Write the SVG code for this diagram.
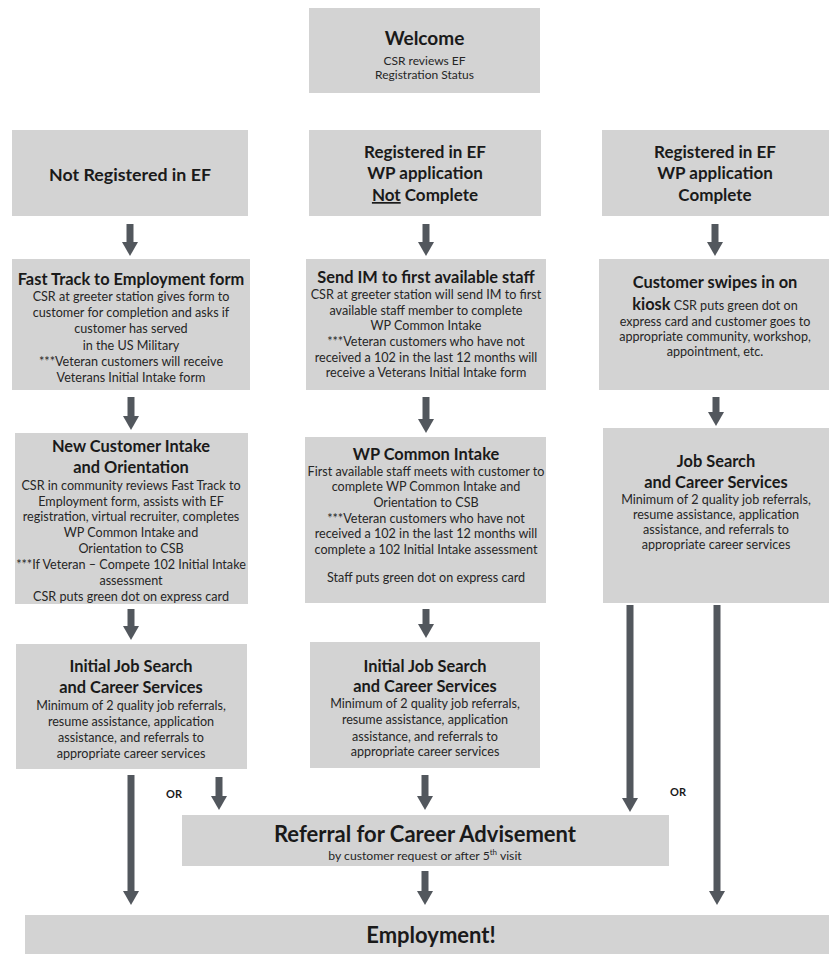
<svg xmlns="http://www.w3.org/2000/svg" width="829" height="954" viewBox="0 0 829 954">
<defs>
<style>
.box{fill:#d3d3d3}
text{font-family:Lato,"Liberation Sans",sans-serif;fill:#1a1a1a;text-anchor:middle}
.t{font-weight:bold;font-size:16.4px}
.h{font-weight:bold;font-size:17px}
.b{font-size:12.6px;fill:#262626}
.or{font-weight:bold;font-size:11px}
.ar{stroke:#52575d;stroke-width:7;fill:none;marker-end:url(#ah)}
</style>
<marker id="ah" markerUnits="userSpaceOnUse" markerWidth="14" markerHeight="16" refX="0" refY="8" orient="auto" viewBox="0 0 14 16">
<path d="M0,0 L14,8 L0,16 Z" fill="#52575d"/>
</marker>
</defs>
<rect width="829" height="954" fill="#fff"/>

<g id="welcome">
<rect class="box" x="309" y="8" width="231" height="85"/>
<text class="t" x="424.5" y="45" style="font-size:19px">Welcome</text>
<text class="b" x="424.5" y="65" style="font-size:12px">CSR reviews EF</text>
<text class="b" x="424.5" y="79" style="font-size:12px">Registration Status</text>
</g>

<g id="not-registered">
<rect class="box" x="12" y="130" width="236" height="86"/>
<text class="h" x="130" y="181" style="font-size:17.8px">Not Registered in EF</text>
</g>

<g id="registered-not-complete">
<rect class="box" x="309" y="130" width="232" height="86"/>
<text class="h" x="425" y="158">Registered in EF</text>
<text class="h" x="425" y="179">WP application</text>
<text class="h" x="425" y="201"><tspan text-decoration="underline">Not</tspan> Complete</text>
</g>

<g id="registered-complete">
<rect class="box" x="602" y="130" width="227" height="86"/>
<text class="h" x="715" y="158">Registered in EF</text>
<text class="h" x="715" y="179">WP application</text>
<text class="h" x="715" y="201">Complete</text>
</g>

<g id="fast-track">
<rect class="box" x="12" y="259" width="238" height="131"/>
<text class="t" x="131" y="285">Fast Track to Employment form</text>
<text class="b" x="131" y="301">CSR at greeter station gives form to</text>
<text class="b" x="131" y="317">customer for completion and asks if</text>
<text class="b" x="131" y="333">customer has served</text>
<text class="b" x="131" y="350">in the US Military</text>
<text class="b" x="131" y="366">***Veteran customers will receive</text>
<text class="b" x="131" y="382">Veterans Initial Intake form</text>
</g>

<g id="send-im">
<rect class="box" x="306" y="259" width="240" height="131"/>
<text class="t" x="426" y="283">Send IM to first available staff</text>
<text class="b" x="426" y="299">CSR at greeter station will send IM to first</text>
<text class="b" x="426" y="315">available staff member to complete</text>
<text class="b" x="426" y="330">WP Common Intake</text>
<text class="b" x="426" y="346">***Veteran customers who have not</text>
<text class="b" x="426" y="362">received a 102 in the last 12 months will</text>
<text class="b" x="426" y="377">receive a Veterans Initial Intake form</text>
</g>

<g id="kiosk">
<rect class="box" x="599" y="259" width="230" height="131"/>
<text class="t" x="715" y="288">Customer swipes in on</text>
<text x="715" y="310"><tspan class="t">kiosk</tspan><tspan class="b"> CSR puts green dot on</tspan></text>
<text class="b" x="715" y="326">express card and customer goes to</text>
<text class="b" x="715" y="341">appropriate community, workshop,</text>
<text class="b" x="715" y="356">appointment, etc.</text>
</g>

<g id="new-customer-intake">
<rect class="box" x="15" y="433" width="233" height="171"/>
<text class="t" x="131" y="452">New Customer Intake</text>
<text class="t" x="131" y="473">and Orientation</text>
<text class="b" x="131" y="490">CSR in community reviews Fast Track to</text>
<text class="b" x="131" y="506">Employment form, assists with EF</text>
<text class="b" x="131" y="521">registration, virtual recruiter, completes</text>
<text class="b" x="131" y="537">WP Common Intake  and</text>
<text class="b" x="131" y="553">Orientation to CSB</text>
<text class="b" x="131" y="569">***If Veteran – Compete 102 Initial Intake</text>
<text class="b" x="131" y="585">assessment</text>
<text class="b" x="131" y="601">CSR puts green dot on express card</text>
</g>

<g id="wp-common-intake">
<rect class="box" x="305" y="437" width="241" height="166"/>
<text class="t" x="426" y="460">WP Common Intake</text>
<text class="b" x="426" y="476">First available staff meets with customer to</text>
<text class="b" x="426" y="491">complete WP Common Intake and</text>
<text class="b" x="426" y="507">Orientation to CSB</text>
<text class="b" x="426" y="523">***Veteran customers who have not</text>
<text class="b" x="426" y="538">received a 102 in the last 12 months will</text>
<text class="b" x="426" y="554">complete a 102 Initial Intake assessment</text>
<text class="b" x="426" y="582">Staff puts green dot on express card</text>
</g>

<g id="job-search">
<rect class="box" x="603" y="428" width="226" height="175"/>
<text class="t" x="716" y="467">Job Search</text>
<text class="t" x="716" y="488">and Career Services</text>
<text class="b" x="716" y="504">Minimum of 2 quality job referrals,</text>
<text class="b" x="716" y="519">resume assistance, application</text>
<text class="b" x="716" y="534">assistance, and referrals to</text>
<text class="b" x="716" y="549">appropriate career services</text>
</g>

<g id="initial-job-search-1">
<rect class="box" x="16" y="644" width="231" height="125"/>
<text class="t" x="131" y="672">Initial Job Search</text>
<text class="t" x="131" y="693">and Career Services</text>
<text class="b" x="131" y="710">Minimum of 2 quality job referrals,</text>
<text class="b" x="131" y="726">resume assistance, application</text>
<text class="b" x="131" y="742">assistance, and referrals to</text>
<text class="b" x="131" y="758">appropriate career services</text>
</g>

<g id="initial-job-search-2">
<rect class="box" x="310" y="642" width="230" height="126"/>
<text class="t" x="425" y="672">Initial Job Search</text>
<text class="t" x="425" y="692">and Career Services</text>
<text class="b" x="425" y="708">Minimum of 2 quality job referrals,</text>
<text class="b" x="425" y="724">resume assistance, application</text>
<text class="b" x="425" y="741">assistance, and referrals to</text>
<text class="b" x="425" y="756">appropriate career services</text>
</g>

<g id="referral">
<rect class="box" x="182" y="815" width="487" height="51"/>
<text x="425" y="842" style="font-weight:bold;font-size:22px">Referral for Career Advisement</text>
<text class="b" x="425" y="860" style="font-size:12.2px">by customer request or after 5<tspan baseline-shift="super" style="font-size:8px">th</tspan> visit</text>
</g>

<g id="employment">
<rect class="box" x="25" y="915" width="804" height="39"/>
<text x="431" y="943" style="font-weight:bold;font-size:22px">Employment!</text>
</g>

<g id="labels">
<text class="or" x="174" y="798">OR</text>
<text class="or" x="678" y="796">OR</text>
</g>

<g id="connectors">
<line class="ar" x1="130" y1="224" x2="130" y2="242"/>
<line class="ar" x1="426" y1="224" x2="426" y2="242"/>
<line class="ar" x1="715" y1="224" x2="715" y2="242"/>
<line class="ar" x1="131" y1="397" x2="131" y2="416"/>
<line class="ar" x1="426" y1="397" x2="426" y2="419"/>
<line class="ar" x1="716" y1="397" x2="716" y2="412"/>
<line class="ar" x1="131" y1="609" x2="131" y2="626"/>
<line class="ar" x1="426" y1="609" x2="426" y2="624"/>
<line class="ar" x1="630" y1="605" x2="630" y2="798"/>
<line class="ar" x1="717" y1="605" x2="717" y2="891"/>
<line class="ar" x1="131" y1="775" x2="131" y2="891"/>
<line class="ar" x1="219" y1="777" x2="219" y2="796"/>
<line class="ar" x1="425" y1="775" x2="425" y2="796"/>
<line class="ar" x1="425" y1="871" x2="425" y2="891"/>
</g>
</svg>
